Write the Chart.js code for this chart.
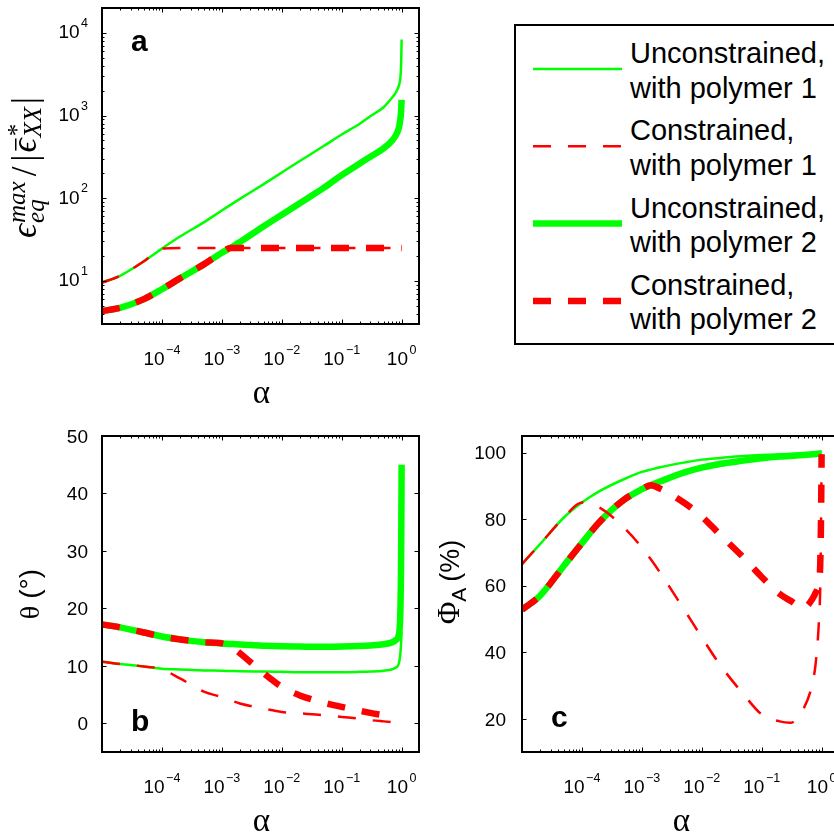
<!DOCTYPE html>
<html>
<head>
<meta charset="utf-8">
<script src="https://cdn.jsdelivr.net/npm/chart.js@4.4.0/dist/chart.umd.min.js"></script>
<style>
  html, body { margin: 0; padding: 0; background: #fff; overflow: hidden; width: 834px; height: 836px; }
  canvas { position: absolute; }
  #legend { position: absolute; left: 514px; top: 24px; width: 340px; height: 321px; border: 2px solid #000;
            box-sizing: border-box; font-family: 'Liberation Sans', Arial, sans-serif; font-size: 29px; }
  #legend .item { position: absolute; left: 114px; line-height: 34.5px; white-space: pre; color: #000; }
  #legend svg { position: absolute; left: 0; top: 0; }
</style>
</head>
<body>
<canvas id="chartA" width="420" height="420" style="left:0;top:0"></canvas>
<canvas id="chartB" width="420" height="420" style="left:0;top:420px"></canvas>
<canvas id="chartC" width="420" height="420" style="left:420px;top:420px"></canvas>
<div id="legend"></div>
<script>
// alpha values (shared by all panels)
const alpha = [1e-5, 2e-5, 5e-5, 1e-4, 2e-4, 5e-4, 1e-3, 1.4e-3, 2e-3, 5e-3, 1e-2, 2e-2, 5e-2,
               0.1, 0.2, 0.3, 0.5, 0.7, 0.8, 0.9, 0.95, 0.98, 0.99, 1];

const seriesNames = ['Unconstrained,\nwith polymer 1', 'Constrained,\nwith polymer 1',
                     'Unconstrained,\nwith polymer 2', 'Constrained,\nwith polymer 2'];

// panel a : eps_eq^max / |eps_XX|
const unc1A = [9.5, 11.5, 17.2, 24.5, 34.3, 51, 71, 83, 98, 148, 204, 282, 427,
               590, 795, 980, 1260, 1660, 1900, 2300, 2800, 4000, 5600, 8300];
const con1A = [9.5, 11.5, 17.2, 24.5, 25, 25, 25, 25, 25, 25, 25, 25, 25,
               25, 25, 25, 25, 25, 25, 25, 25, 25, 25, 25];
const unc2A = [4.3, 4.7, 6.0, 7.9, 10.7, 15.8, 21.9, 25.1, 29.5, 45.7, 63, 87, 133,
               190, 263, 316, 400, 500, 575, 710, 890, 1120, 1320, 1550];
const con2A = [4.3, 4.7, 6.0, 7.9, 10.7, 15.8, 21.9, 25, 25, 25, 25, 25, 25,
               25, 25, 25, 25, 25, 25, 25, 25, 25, 25, 25];

// panel b : theta (deg)
const unc1B = [10.7, 10.3, 9.9, 9.5, 9.35, 9.2, 9.15, 9.1, 9.05, 9.0, 8.95, 8.9, 8.9,
               8.9, 8.95, 9.0, 9.15, 9.4, 9.7, 10.4, 12, 14, 15, 16];
const con1B = [10.7, 10.3, 9.9, 9.4, 7.8, 5.5, 4.55, 4.0, 3.45, 2.55, 1.95, 1.72, 1.42,
               1.1, 0.8, 0.55, 0.33, 0.2, 0.16, 0.12, 0.1, 0.25, 0.45, 0.8];
const unc2B = [17.2, 16.7, 15.8, 15.1, 14.6, 14.1, 13.9, 13.8, 13.7, 13.5, 13.4, 13.35, 13.3,
               13.35, 13.45, 13.55, 13.75, 14.1, 14.5, 15.5, 19, 28, 36, 45];
const con2B = [17.2, 16.7, 15.8, 15.1, 14.6, 14.1, 13.9, 13.4, 12.2, 8.7, 6.35, 4.85, 3.6,
               2.85, 2.2, 1.8, 1.4, null, null, null, null, null, null, null];

// panel c : Phi_A (%)
const unc1C = [66.5, 72.5, 80.5, 85, 88.5, 92, 94.2, 94.9, 95.6, 97, 97.9, 98.4, 99.0,
               99.3, 99.5, 99.6, 99.7, 99.8, 99.85, 99.9, 99.95, 100, 100, 100];
const con1C = [66.5, 72.5, 80.5, 85, 83.4, 77.5, 71.5, 68, 64, 53, 44.5, 36.3, 27.3,
               21.3, 19.2, 18.8, 23, 30.5, 37, 49, 60, 80, 90, 99.5];
const unc2C = [52.8, 57, 66, 72.8, 79.3, 85.8, 89.0, 90.2, 91.3, 94.0, 95.5, 96.6, 97.6,
               98.3, 98.8, 99.0, 99.3, 99.5, 99.6, 99.7, 99.75, 99.8, 99.8, 99.8];
const con2C = [52.8, 57, 66, 72.8, 79.3, 85.8, 89.0, 90.2, 89.2, 85, 80.8, 75.4, 68.4,
               62.6, 57.5, 55.5, 53.3, 56, 58, 60.8, 67, 82, 91, 99.5];

const xTickExp = [-4, -3, -2, -1, 0];

const SANS = "'Liberation Sans', Arial, sans-serif";
const SERIF = "'Liberation Serif', 'Times New Roman', serif";

const styles = [
  { color: '#00ff00', width: 2.5, dash: [], order: 4 },
  { color: '#ff0000', width: 2.5, dash: [18, 17], order: 2 },
  { color: '#00ff00', width: 6.5, dash: [], order: 3 },
  { color: '#ff0000', width: 6.5, dash: [18, 17], order: 1 }
];

function pts(ys) {
  return alpha.map((a, i) => ({ x: a, y: ys[i] }));
}

function makeDatasets(list) {
  return list.map((ys, i) => ({
    label: seriesNames[i].replace('\n', ' '),
    data: pts(ys),
    borderColor: styles[i].color,
    borderWidth: styles[i].width,
    borderDash: styles[i].dash,
    order: styles[i].order,
    pointRadius: 0,
    fill: false,
    spanGaps: false,
    cubicInterpolationMode: 'monotone'
  }));
}

// "10" with superscript exponent
function drawPow(ctx, exp, x, y, align) {
  const base = '10', sup = exp < 0 ? '\u2212' + (-exp) : String(exp);
  ctx.font = '19px ' + SANS;
  const wb = ctx.measureText(base).width;
  ctx.font = '12.5px ' + SANS;
  const ws = ctx.measureText(sup).width;
  const tot = wb + 1.5 + ws;
  let x0 = align === 'center' ? x - tot / 2 : x - tot;
  ctx.textAlign = 'left';
  ctx.font = '19px ' + SANS;
  ctx.fillText(base, x0, y);
  ctx.font = '12.5px ' + SANS;
  ctx.fillText(sup, x0 + wb + 1.5, y - 11.5);
}

// runs of text along one baseline, optionally rotated
function drawRuns(ctx, runs, x, y, rotate) {
  ctx.save();
  ctx.translate(x, y);
  if (rotate) ctx.rotate(-Math.PI / 2);
  const widths = runs.map(r => {
    ctx.font = r.font;
    let w = r.t ? ctx.measureText(r.t).width : 0;
    if (r.sup || r.sub) {
      w = Math.max(r.sup ? ctx.measureText(r.sup).width : 0, r.sub ? ctx.measureText(r.sub).width : 0);
    }
    return w + (r.gap || 0);
  });
  const total = widths.reduce((s, w) => s + w, 0);
  let cx = -total / 2;
  ctx.textAlign = 'left';
  ctx.textBaseline = 'alphabetic';
  runs.forEach((r, i) => {
    ctx.font = r.font;
    if (r.t) ctx.fillText(r.t, cx, r.dy || 0);
    if (r.sup) ctx.fillText(r.sup, cx + (r.supDx || 0), r.supDy);
    if (r.sub) ctx.fillText(r.sub, cx, r.subDy);
    if (r.bar) {
      ctx.fillRect(cx + 2, -r.bar, widths[i] - (r.gap || 0) - 2, 1.5);
    }
    cx += widths[i];
  });
  ctx.restore();
}

const framePlugin = {
  id: 'frame',
  afterDraw(chart, args, o) {
    const { ctx, chartArea: a, scales: { x, y } } = chart;
    ctx.save();
    ctx.strokeStyle = '#000';
    ctx.fillStyle = '#000';
    ctx.lineWidth = 1;
    const seg = (x1, y1, x2, y2) => { ctx.beginPath(); ctx.moveTo(x1, y1); ctx.lineTo(x2, y2); ctx.stroke(); };

    // x ticks (log)
    for (let e = -5; e <= 0; e++) {
      for (let m = 1; m <= 9; m++) {
        const v = m * Math.pow(10, e);
        if (v <= x.min * 1.001 || v >= x.max) continue;
        const px = Math.round(x.getPixelForValue(v)) + 0.5;
        const len = m === 1 ? 4.5 : 2.5;
        seg(px, a.bottom, px, a.bottom - len);
        seg(px, a.top, px, a.top + len);
      }
    }
    // y ticks
    if (o.yLog) {
      for (let e = 0; e <= 4; e++) {
        for (let m = 1; m <= 9; m++) {
          const v = m * Math.pow(10, e);
          if (v <= y.min || v >= y.max) continue;
          const py = Math.round(y.getPixelForValue(v)) + 0.5;
          const len = m === 1 ? 4.5 : 2.5;
          seg(a.left, py, a.left + len, py);
          seg(a.right, py, a.right - len, py);
        }
      }
    } else {
      o.yTicks.forEach(v => {
        const py = Math.round(y.getPixelForValue(v)) + 0.5;
        seg(a.left, py, a.left + 4.5, py);
        seg(a.right, py, a.right - 4.5, py);
      });
    }
    // box
    ctx.lineWidth = 2;
    ctx.strokeRect(a.left, a.top, a.right - a.left, a.bottom - a.top);

    // tick labels
    ctx.textBaseline = 'alphabetic';
    xTickExp.forEach(e => drawPow(ctx, e, x.getPixelForValue(Math.pow(10, e)), a.bottom + 41, 'center'));
    if (o.yLog) {
      o.yTicks.forEach(e => drawPow(ctx, e, a.left - 14, y.getPixelForValue(Math.pow(10, e)) + 5.5, 'right'));
    } else {
      ctx.font = '19px ' + SANS;
      ctx.textAlign = 'right';
      o.yTicks.forEach(v => ctx.fillText(String(v), a.left - o.yLabelGap, y.getPixelForValue(v) + 6.8));
    }

    // x title
    ctx.font = '33px ' + SERIF;
    ctx.textAlign = 'center';
    ctx.fillText('\u03b1', (a.left + a.right) / 2 + 1, a.bottom + 79);

    // y title
    drawRuns(ctx, o.yTitle, o.yTitleX, (a.top + a.bottom) / 2 + (o.yTitleShift || 0), true);

    // panel letter
    ctx.font = 'bold 30px ' + SANS;
    ctx.textAlign = 'left';
    ctx.fillText(o.letter, o.letterX, o.letterY);
    ctx.restore();
  }
};

function makeChart(id, series, yScale, frameOpts, pad) {
  return new Chart(document.getElementById(id), {
    type: 'line',
    data: { datasets: makeDatasets(series) },
    options: {
      responsive: false,
      animation: false,
      devicePixelRatio: 1,
      layout: { padding: pad },
      plugins: { legend: { display: false }, tooltip: { enabled: false }, frame: frameOpts },
      scales: {
        x: { type: 'logarithmic', min: 1e-5, max: 1.95, display: false },
        y: Object.assign({ display: false }, yScale)
      }
    },
    plugins: [framePlugin]
  });
}

const titleA = [
  { t: '\u03f5', font: 'italic 35px ' + SERIF, gap: 1 },
  { sup: 'max', sub: 'eq', font: 'italic 25px ' + SERIF, supDy: -11, subDy: 8, gap: 5 },
  { t: '/', font: '35px ' + SERIF, gap: 5 },
  { t: '|', font: '35px ' + SERIF, gap: 2 },
  { t: '\u03f5', font: 'italic 35px ' + SERIF, bar: 21, gap: 1 },
  { sup: '*', sub: 'XX', font: 'italic 25px ' + SERIF, supDy: -11, subDy: 5, gap: 3 },
  { t: '|', font: '35px ' + SERIF }
];
const titleB = [
  { t: '\u03b8', font: '28px ' + SERIF, gap: 7 },
  { t: '(\u00b0)', font: '28px ' + SANS }
];
const titleC = [
  { t: '\u03a6', font: '31px ' + SERIF },
  { t: 'A', font: '21px ' + SANS, dy: 7, gap: 6 },
  { t: '(%)', font: '27px ' + SANS }
];

makeChart('chartA', [unc1A, con1A, unc2A, con2A],
  { type: 'logarithmic', min: 3, max: 20000 },
  { yLog: true, yTicks: [1, 2, 3, 4], yTitle: titleA, yTitleX: 36, yTitleShift: 1.5,
    letter: 'a', letterX: 131, letterY: 51 },
  { left: 102, top: 8, right: 1, bottom: 96 });

makeChart('chartB', [unc1B, con1B, unc2B, con2B],
  { type: 'linear', min: -5, max: 50 },
  { yLog: false, yTicks: [0, 10, 20, 30, 40, 50], yLabelGap: 14, yTitle: titleB, yTitleX: 39,
    letter: 'b', letterX: 131, letterY: 311 },
  { left: 102, top: 16, right: 1, bottom: 88 });

makeChart('chartC', [unc1C, con1C, unc2C, con2C],
  { type: 'linear', min: 10, max: 105 },
  { yLog: false, yTicks: [20, 40, 60, 80, 100], yLabelGap: 16, yTitle: titleC, yTitleX: 39, yTitleShift: -12,
    letter: 'c', letterX: 131, letterY: 307 },
  { left: 102, top: 16, right: 1, bottom: 88 });

// legend box
(function () {
  const lg = document.getElementById('legend');
  const ns = 'http://www.w3.org/2000/svg';
  const svg = document.createElementNS(ns, 'svg');
  svg.setAttribute('width', '330');
  svg.setAttribute('height', '317');
  seriesNames.forEach((name, i) => {
    const ly = 43 + i * 77.3;
    const ln = document.createElementNS(ns, 'line');
    ln.setAttribute('x1', 17); ln.setAttribute('x2', 106);
    ln.setAttribute('y1', ly); ln.setAttribute('y2', ly);
    ln.setAttribute('stroke', styles[i].color);
    ln.setAttribute('stroke-width', styles[i].width);
    if (styles[i].dash.length) ln.setAttribute('stroke-dasharray', styles[i].dash.join(' '));
    svg.appendChild(ln);
    const d = document.createElement('div');
    d.className = 'item';
    d.style.top = (10 + i * 77.3) + 'px';
    d.textContent = name;
    lg.appendChild(d);
  });
  lg.appendChild(svg);
})();
</script>
</body>
</html>
